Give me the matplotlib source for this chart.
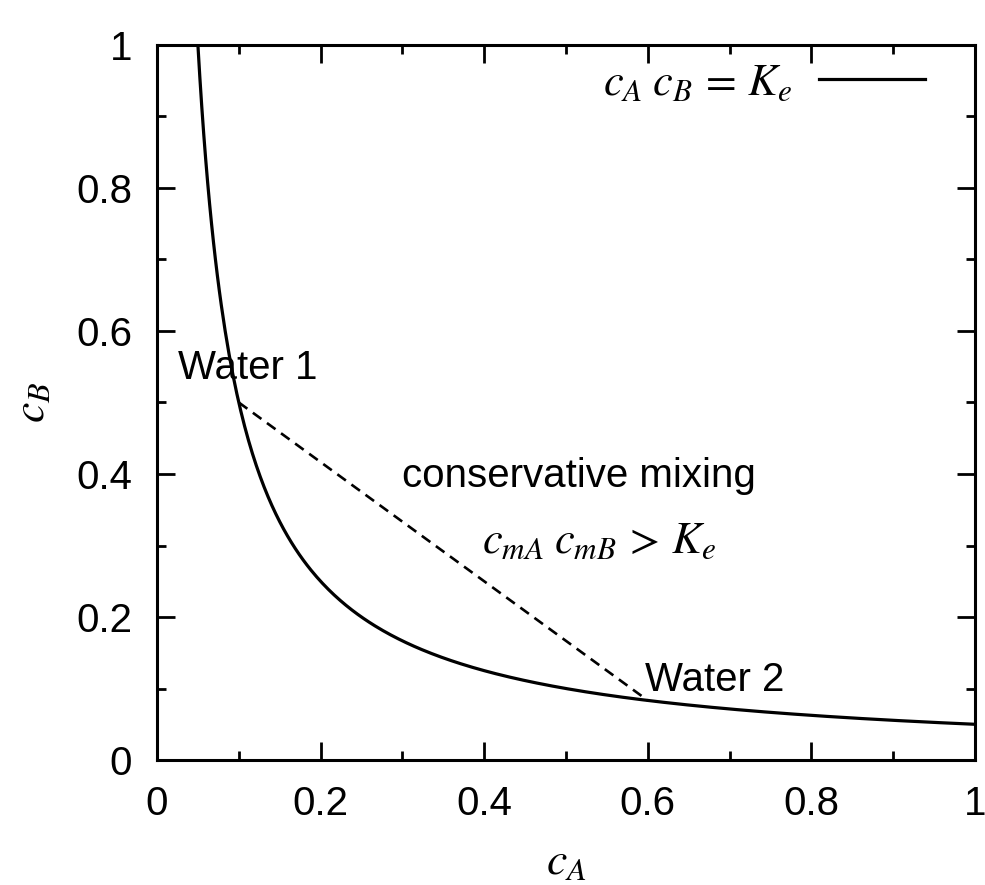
import numpy as np
import matplotlib
matplotlib.use("Agg")
import matplotlib.pyplot as plt
from matplotlib.ticker import MultipleLocator

plt.rcParams['font.family'] = ['Liberation Sans', 'DejaVu Sans']
plt.rcParams['mathtext.fontset'] = 'stix'

# equilibrium constant and the two end member waters
Ke = 0.05
ca_range = [0.05, 1.0]
water_ca = [0.1, 0.6]
water_cb = [0.5, Ke / 0.6]

fig = plt.figure(figsize=(9.85, 8.85), dpi=100)
ax = fig.add_axes([0.1594, 0.1412, 0.8304, 0.808])

ca = np.linspace(ca_range[0], ca_range[1], 400)
ax.plot(ca, Ke / ca, color='black', lw=2.3, label=r'$c_A\;c_B\,=\,K_e$')
ax.plot(water_ca, water_cb, color='black', lw=1.9, ls=(0, (4, 2.6)))

ax.set_xlim(0, 1)
ax.set_ylim(0, 1)
ax.xaxis.set_major_locator(MultipleLocator(0.2))
ax.xaxis.set_minor_locator(MultipleLocator(0.1))
ax.yaxis.set_major_locator(MultipleLocator(0.2))
ax.yaxis.set_minor_locator(MultipleLocator(0.1))
ax.xaxis.set_major_formatter(plt.FuncFormatter(lambda v, p: '%g' % v))
ax.yaxis.set_major_formatter(plt.FuncFormatter(lambda v, p: '%g' % v))
ax.tick_params(which='both', direction='in', top=True, right=True, width=2.0, labelsize=29)
ax.tick_params(which='major', length=13, pad=18)
ax.tick_params(which='minor', length=6.5)
for s in ax.spines.values():
    s.set_linewidth(2.2)

ax.set_xlabel(r'$c_A$', fontsize=33, labelpad=12)
ax.set_ylabel(r'$c_B$', fontsize=33, labelpad=16)

ax.text(0.026, 0.548, 'Water 1', fontsize=29, va='center')
ax.text(0.30, 0.397, 'conservative mixing', fontsize=29, va='center')
ax.text(0.397, 0.305, r'$c_{mA}\;c_{mB}\,>\,K_e$', fontsize=32, va='center')
ax.text(0.597, 0.112, 'Water 2', fontsize=29, va='center')

ax.legend(loc='upper right', bbox_to_anchor=(0.961, 1.0), frameon=False,
          markerfirst=False, fontsize=32, handlelength=2.4, borderaxespad=0,
          handletextpad=0.6)

fig.savefig('out.png', dpi=100)
